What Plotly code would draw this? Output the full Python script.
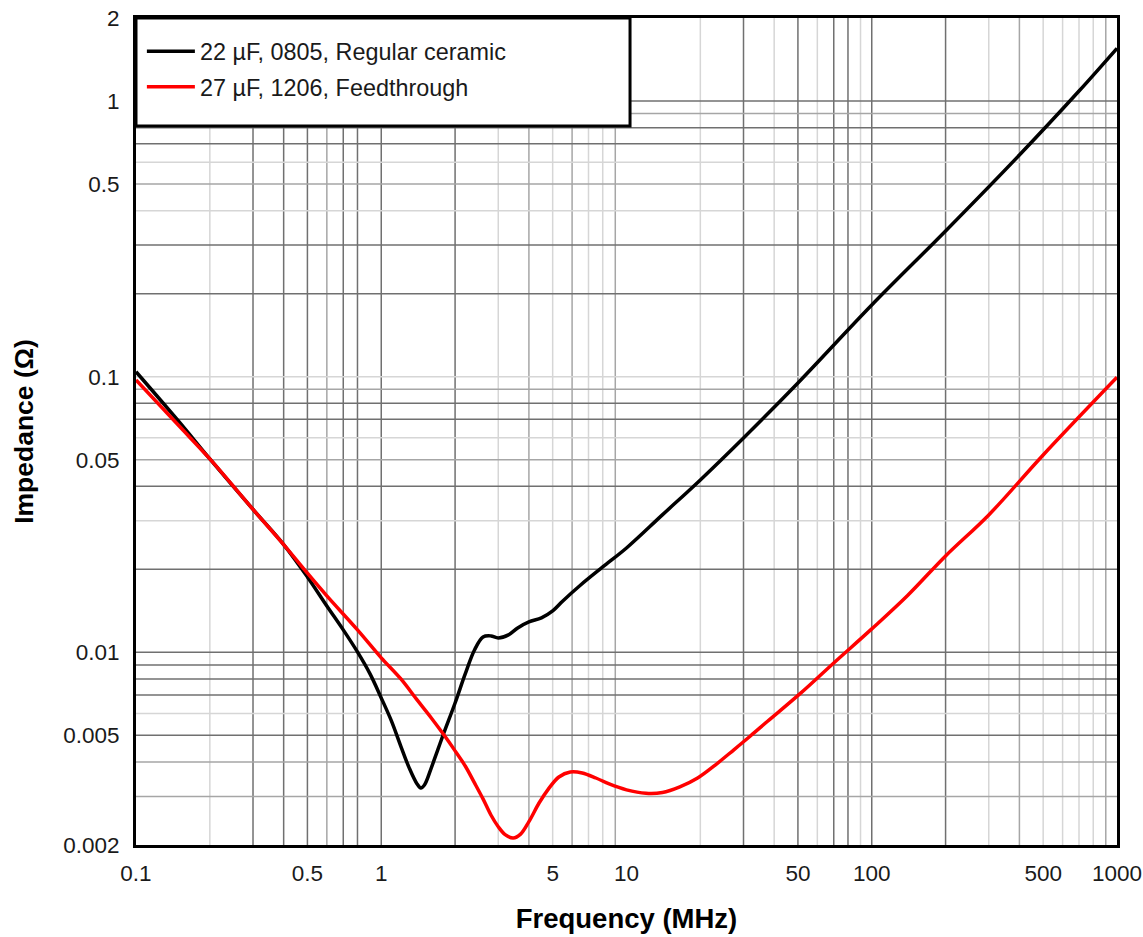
import numpy as np
import plotly.graph_objects as go

# Impedance vs frequency for two capacitors (log-log)
freq_regular = [0.1, 0.15, 0.2, 0.3, 0.4, 0.5, 0.6, 0.7, 0.8, 0.9, 1.0, 1.1, 1.2, 1.3, 1.4,
                1.45, 1.5, 1.6, 1.7, 1.8, 2.0, 2.2, 2.4, 2.6, 2.8, 3.0, 3.3, 3.6, 4.0, 4.5,
                5.0, 5.5, 6.5, 8, 10, 14, 20, 30, 50, 100, 200, 400, 700, 1000]
z_regular = [0.1042, 0.0685, 0.0503, 0.0330, 0.0246, 0.01877, 0.01473, 0.01206, 0.01003,
             0.00835, 0.00683, 0.00564, 0.00458, 0.00381, 0.00333, 0.00322, 0.0033, 0.00381,
             0.00443, 0.0051, 0.00655, 0.00835, 0.0102, 0.01137, 0.01147, 0.01128, 0.01157,
             0.01226, 0.01289, 0.01333, 0.01413, 0.01536, 0.01755, 0.0204, 0.0239, 0.03151,
             0.0422, 0.0599, 0.0949, 0.182, 0.3377, 0.6369, 1.087, 1.553]

freq_feed = [0.1, 0.15, 0.2, 0.3, 0.4, 0.5, 0.6, 0.8, 1.0, 1.2, 1.4, 1.6, 1.8, 2.0, 2.2, 2.4,
             2.6, 2.8, 3.0, 3.2, 3.45, 3.7, 4.0, 4.4, 4.8, 5.3, 5.9, 6.6, 7.5, 8.5, 10, 12, 14,
             16.5, 19.5, 23, 27.4, 32, 37.5, 51.3, 70, 100, 140, 200, 300, 500, 1000]
z_feed = [0.0973, 0.0662, 0.0503, 0.0330, 0.0246, 0.01936, 0.01602, 0.01206, 0.00955, 0.00802,
          0.00672, 0.00578, 0.00502, 0.00439, 0.00387, 0.00336, 0.00294, 0.00257, 0.00233,
          0.00218, 0.00212, 0.00219, 0.00243, 0.00284, 0.00319, 0.00353, 0.00368, 0.00365,
          0.0035, 0.00333, 0.00317, 0.00308, 0.0031, 0.00325, 0.0035, 0.0039, 0.00443, 0.00497,
          0.00561, 0.00711, 0.00915, 0.01216, 0.01608, 0.02237, 0.03151, 0.0520, 0.0995]

series_names = ["22 \u00b5F, 0805, Regular ceramic", "27 \u00b5F, 1206, Feedthrough"]

x_tick_vals = [0.1, 0.5, 1, 5, 10, 50, 100, 500, 1000]
x_tick_text = ["0.1", "0.5", "1", "5", "10", "50", "100", "500", "1000"]
y_tick_vals = [0.002, 0.005, 0.01, 0.05, 0.1, 0.5, 1, 2]
y_tick_text = ["0.002", "0.005", "0.01", "0.05", "0.1", "0.5", "1", "2"]

# grid lines, grouped by shade
x_grid_dark = [0.3, 0.4, 0.5, 0.7, 0.8, 1, 2, 30, 50, 70, 80, 100, 200]
x_grid_mid = [0.6, 4, 6, 9, 400, 900]
x_grid_light = [0.2, 3, 5, 7, 8, 20, 40, 60, 90, 300, 500, 600, 700, 800]
y_grid_dark = [1, 0.8, 0.7, 0.3, 0.2, 0.08, 0.07, 0.04, 0.02, 0.01, 0.009, 0.008, 0.007, 0.005]
y_grid_mid = [0.9, 0.5, 0.09, 0.05, 0.004, 0.003]
y_grid_light = [0.6, 0.4, 0.1, 0.06, 0.03, 0.006]

grid_colors = {"dark": "#707070", "mid": "#a6a6a6", "light": "#d6d6d6"}

fig = go.Figure()
fig.add_trace(go.Scatter(x=freq_regular, y=z_regular, mode="lines", name=series_names[0],
                         line=dict(color="#000000", width=3.5, shape="spline", smoothing=1.0),
                         legendgroup="a"))
fig.add_trace(go.Scatter(x=freq_feed, y=z_feed, mode="lines", name=series_names[1],
                         line=dict(color="#ff0000", width=3.5, shape="spline", smoothing=1.0),
                         legendgroup="b"))

shapes = []
for shade, vals in (("light", x_grid_light), ("mid", x_grid_mid), ("dark", x_grid_dark)):
    for v in vals:
        shapes.append(dict(type="line", xref="x", yref="paper", x0=v, x1=v, y0=0, y1=1,
                           line=dict(color=grid_colors[shade], width=1.5), layer="below"))
for shade, vals in (("light", y_grid_light), ("mid", y_grid_mid), ("dark", y_grid_dark)):
    for v in vals:
        shapes.append(dict(type="line", xref="paper", yref="y", x0=0, x1=1, y0=v, y1=v,
                           line=dict(color=grid_colors[shade], width=1.5), layer="below"))
# legend frame
shapes.append(dict(type="rect", xref="paper", yref="paper", x0=0, x1=0.5036, y0=0.8694, y1=1,
                   line=dict(color="#000000", width=3), fillcolor="#ffffff", layer="below"))

font_family = "Liberation Sans, Arial, sans-serif"

fig.update_layout(
    width=1143, height=937,
    margin=dict(l=136, r=26, t=18, b=92, autoexpand=False),
    paper_bgcolor="#ffffff", plot_bgcolor="#ffffff",
    font=dict(family=font_family, size=22.5, color="#1a1a1a"),
    shapes=shapes,
    showlegend=True,
    legend=dict(x=0.006, y=0.986, xanchor="left", yanchor="top", bgcolor="rgba(0,0,0,0)",
                borderwidth=0, font=dict(size=23.4, color="#1a1a1a"), itemwidth=48,
                tracegroupgap=2, traceorder="grouped"),
    xaxis=dict(type="log", range=[-1, 3], tickvals=x_tick_vals, ticktext=x_tick_text,
               showgrid=False, zeroline=False, showline=True, linecolor="#000000",
               linewidth=3, mirror=True, ticks="outside", ticklen=6,
               tickcolor="rgba(0,0,0,0)",
               title=dict(text="<b>Frequency (MHz)</b>", font=dict(size=27.5, color="#000000"),
                          standoff=24)),
    yaxis=dict(type="log", range=[np.log10(0.002), np.log10(2)], tickvals=y_tick_vals,
               ticktext=y_tick_text, showgrid=False, zeroline=False, showline=True,
               linecolor="#000000", linewidth=3, mirror=True, ticks="outside", ticklen=9,
               tickcolor="rgba(0,0,0,0)",
               title=dict(text="<b>Impedance (\u03a9)</b>", font=dict(size=26.5, color="#000000"),
                          standoff=22)),
)

fig.write_html("out.html")
